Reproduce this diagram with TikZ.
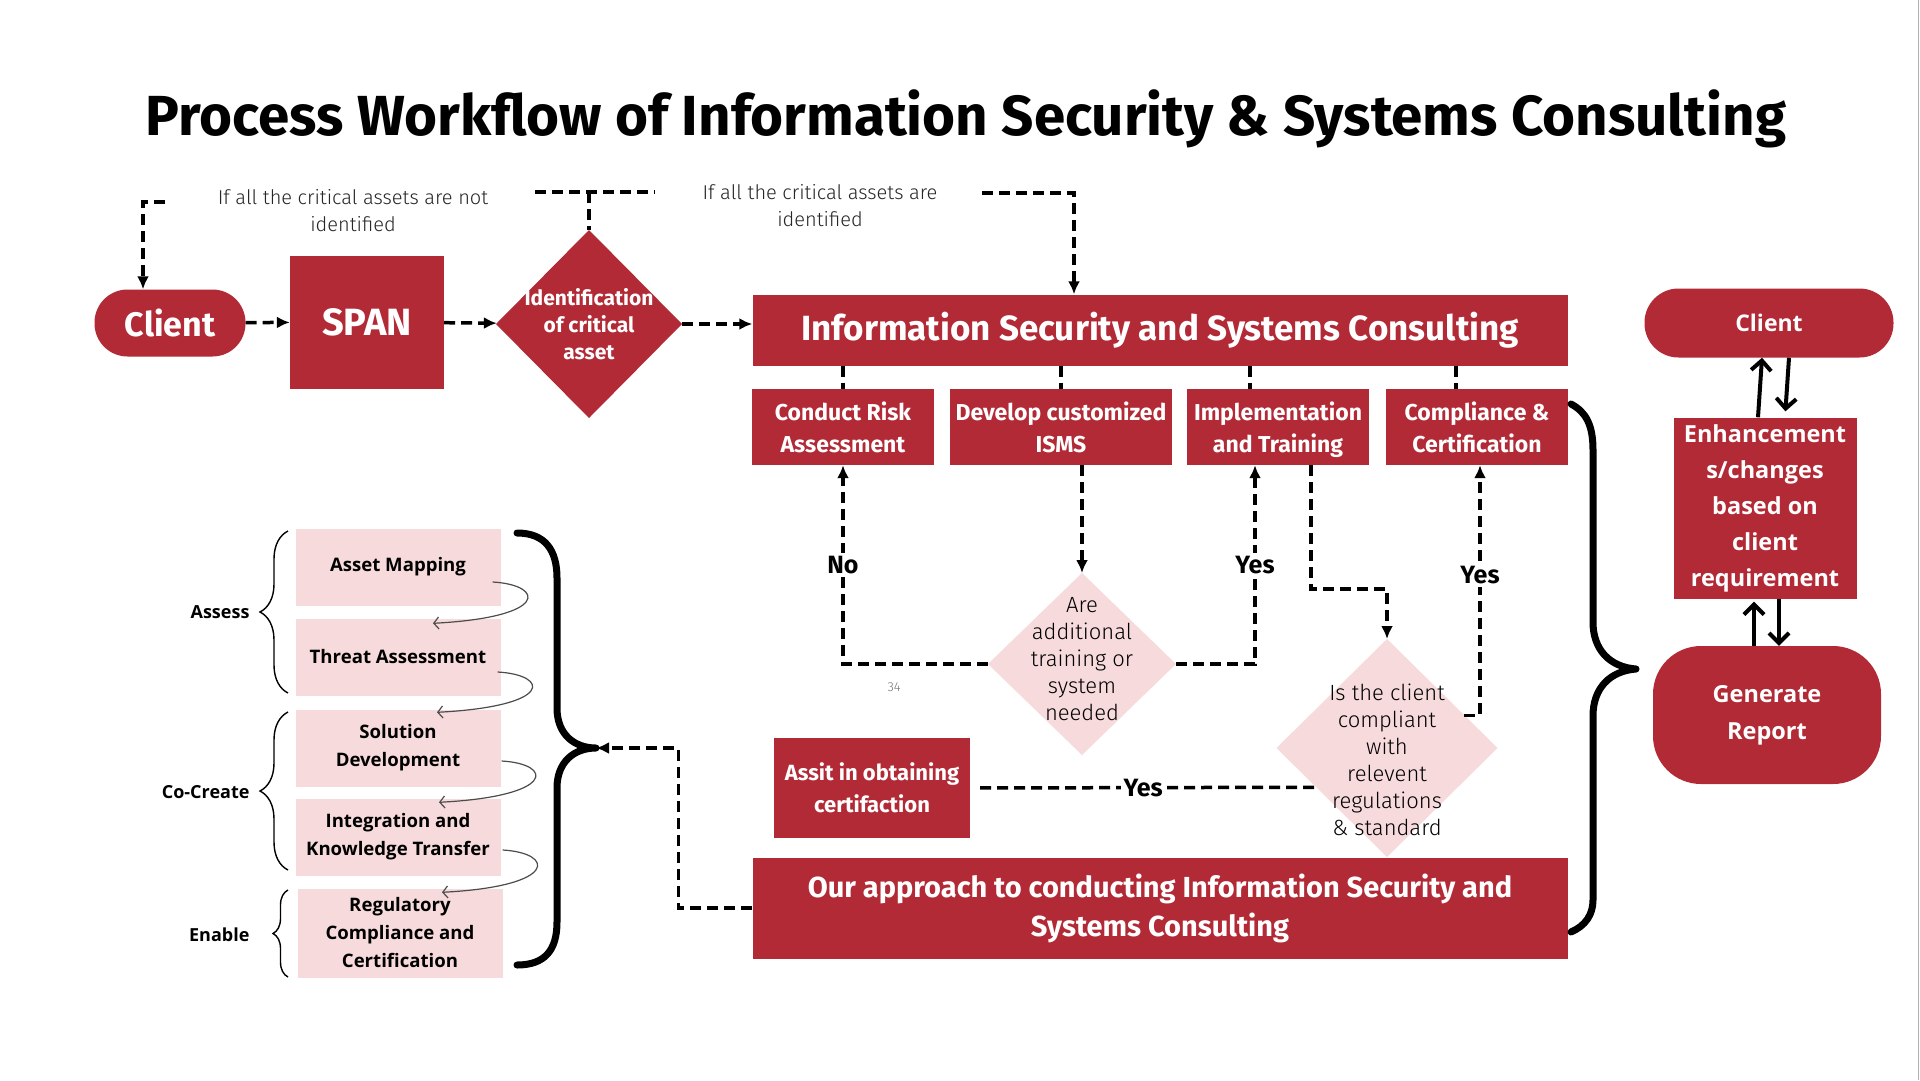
\documentclass[tikz,border=0pt]{standalone}
\usepackage{fontspec}
\setmainfont{Open Sans}
\newfontfamily\condfont{Fira Sans}
\newfontfamily\lightfont{Fira Sans Light}
\usetikzlibrary{positioning,shapes.geometric,arrows.meta,calc,decorations.pathreplacing}
\definecolor{brandred}{RGB}{178,42,54}
\definecolor{softpink}{RGB}{247,218,219}
\tikzset{
  redbox/.style={fill=brandred,text=white,inner sep=0pt,align=center},
  pill/.style={redbox,rounded corners=#1},
  pinkbox/.style={fill=softpink,inner sep=0pt,align=center,minimum width=205,minimum height=77,font=\fontsize{18.6}{28}\selectfont\bfseries},
  dia/.style={diamond,inner sep=0pt,outer sep=0pt},
  dashline/.style={line width=3.5pt,dash pattern=on 11pt off 6pt},
  flow/.style={dashline,-{Latex[length=13pt,width=12pt]}},
  swap/.style={line width=4pt,-{Straight Barb[length=10pt,width=20pt]}},
  curl/.style={black!70,line width=1.2pt,-{Straight Barb[length=5pt,width=12pt]}},
  thinbrace/.style={decorate,line width=1.4pt},
  bigbrace/.style={line width=7pt,line cap=round,line join=round},
  tag/.style={font=\condfont\bfseries\fontsize{25}{30}\selectfont,fill=white,inner sep=3pt},
  note/.style={font=\lightfont\fontsize{20}{27}\selectfont,text=black!85,align=center},
  sidelabel/.style={anchor=east,font=\fontsize{18}{22}\selectfont\bfseries},
}
\begin{document}
\begin{tikzpicture}[x=1pt,y=-1pt]
\useasboundingbox (0,0) rectangle (1920,1080);
\fill[white] (0,0) rectangle (1920,1080);
\draw[black!30,line width=1.5pt] (1918.5,0) -- (1918.5,1080);

\node[font=\condfont\bfseries\fontsize{56.5}{60}\selectfont] (title) at (966,119) {Process Workflow of Information Security \& Systems Consulting};

% top row
\node[pill=33,minimum width=151,minimum height=67,font=\condfont\bfseries\fontsize{34}{40}\selectfont] (cl) at (170,323) {Client};
\node[redbox,minimum width=154,minimum height=133,font=\condfont\bfseries\fontsize{38}{40}\selectfont] (span) at (367,322) {SPAN};
\node[dia,fill=brandred,minimum width=186,minimum height=188,
  label={[align=center,text=white,font=\condfont\bfseries\fontsize{21}{27}\selectfont]center:{Identification\\of critical\\asset}}] (ica) at (589,324) {};
\node[redbox,minimum width=815,minimum height=71,font=\condfont\bfseries\fontsize{35}{40}\selectfont] (isc) at (1160,330) {Information Security and Systems Consulting};

\node[note] (notid) at (353,211) {If all the critical assets are not\\identified};
\node[note] (isid) at (820,206) {If all the critical assets are\\identified};

% service boxes
\node[redbox,minimum width=182,minimum height=76,font=\condfont\bfseries\fontsize{23}{32}\selectfont] (cra) at (843,427) {Conduct Risk\\Assessment};
\node[redbox,minimum width=222,minimum height=76,font=\condfont\bfseries\fontsize{23}{32}\selectfont] (dev) at (1061,427) {Develop customized\\ISMS};
\node[redbox,minimum width=182,minimum height=76,font=\condfont\bfseries\fontsize{23}{32}\selectfont] (imp) at (1278,427) {Implementation\\and Trainin\smash{g}};
\node[redbox,minimum width=182,minimum height=76,font=\condfont\bfseries\fontsize{23}{32}\selectfont] (comp) at (1477,427) {Compliance \&\\Certification};

% decisions
\node[dia,fill=softpink,minimum width=188,minimum height=182,
  label={[align=center,font=\lightfont\fontsize{22}{27}\selectfont,yshift=5pt]center:{Are\\additional\\training or\\system\\needed}}] (are) at (1082,664) {};
\node[dia,fill=softpink,minimum width=221,minimum height=218,
  label={[align=center,font=\lightfont\fontsize{22}{27}\selectfont,yshift=-12pt]center:{Is the client\\compliant\\with\\relevent\\regulations\\\& standard}}] (cd) at (1387,748) {};
\node[font=\lightfont\fontsize{13}{14}\selectfont,text=black!55] (pg) at (894,687) {34};

\node[redbox,minimum width=196,minimum height=100,font=\condfont\bfseries\fontsize{22}{32}\selectfont] (asst) at (872,788) {Assit in obtaining\\certifaction};
\node[redbox,minimum width=815,minimum height=101,font=\condfont\bfseries\fontsize{29}{39}\selectfont] (oa) at (1160,908) {Our approach to conducting Information Security and\\Systems Consulting};

% right column
\node[pill=34,minimum width=249,minimum height=69,font=\fontsize{23}{28}\selectfont\bfseries] (cr) at (1769,323) {Client};
\node[redbox,minimum width=183,minimum height=181,font=\fontsize{23.5}{36}\selectfont\bfseries] (enh) at (1765,508) {Enhancement\\s/changes\\based on\\client\\requirement};
\node[pill=48,minimum width=228,minimum height=138,font=\fontsize{23.5}{37}\selectfont\bfseries] (gr) at (1767,715) {Generate\\Report};

% left list
\node[pinkbox] (am) at (398,567) {Asset Mapping};
\node[pinkbox] (tm) at (398,657) {Threat Assessment};
\node[pinkbox] (sd) at (398,748) {Solution\\Development};
\node[pinkbox] (ik) at (398,837) {Integration and\\Knowledge Transfer};
\node[pinkbox,minimum height=89] (rc) at (400,933) {Regulatory\\Compliance and\\Certification};

\node[sidelabel] (assess) at (253,612) {Assess};
\node[sidelabel] (cocreate) at (253,792) {Co-Create};
\node[sidelabel] (enable) at (253,935) {Enable};

\draw[thinbrace,decoration={brace,amplitude=28pt}] (288,693) -- (288,531);
\draw[thinbrace,decoration={brace,amplitude=28pt}] (288,870) -- (288,712);
\draw[thinbrace,decoration={brace,amplitude=15pt}] (288,977) -- (288,890);

\draw[curl] ($(am.east)+(-8,15)$) .. controls +(52,3) and +(117,-6) .. ($(tm.north)+(35,5)$);
\draw[curl] ($(tm.east)+(-3,15)$) .. controls +(52,3) and +(117,-6) .. ($(sd.north)+(39,3)$);
\draw[curl] ($(sd.east)+(1,13)$) .. controls +(52,3) and +(117,-6) .. ($(ik.north)+(41,4)$);
\draw[curl] ($(ik.east)+(2,13)$) .. controls +(52,3) and +(117,-6) .. ($(rc.north)+(42,4)$);

% big braces
\coordinate (btip) at (596,748);
\draw[bigbrace] (517,533) .. controls (545,533) and (557,550) .. (557,578) -- (557,708) .. controls (557,735) and (575,748) .. (btip) .. controls (575,748) and (557,761) .. (557,788) -- (557,922) .. controls (557,950) and (545,965) .. (517,965);
\coordinate (rtip) at (1636,669);
\draw[bigbrace] (1571,404) .. controls (1586,412) and (1593,425) .. (1593,450) -- (1593,622) .. controls (1593,650) and (1610,667) .. (rtip) .. controls (1610,671) and (1593,688) .. (1593,716) -- (1593,900) .. controls (1593,915) and (1585,926) .. (1571,932);

% connectors
\coordinate (nl) at (165,202);
\draw[flow] (nl) -| ([xshift=-27pt]cl.north);
\draw[flow] (cl) -- (span);
\draw[flow] (span) -- (ica);
\draw[flow] (ica.east) -- (ica.east -| isc.west);
\coordinate (tl) at (535,192);
\coordinate (tr) at (655,192);
\draw[dashline] (tl) -- (tr);
\draw[dashline] (tl -| ica.north) -- (ica.north);
\coordinate (ir) at (982,193);
\draw[flow] (ir) -| ([xshift=-86pt]isc.north);

\draw[dashline] (isc.south -| cra) -- (cra.north);
\draw[dashline] (isc.south -| dev) -- (dev.north);
\draw[dashline] ([xshift=-28pt]isc.south -| imp) -- ([xshift=-28pt]imp.north);
\draw[dashline] ([xshift=-21pt]isc.south -| comp) -- ([xshift=-21pt]comp.north);

\draw[flow] (are.west) -| (cra.south) node[tag,pos=0.75] {No};
\draw[flow] (are.north |- dev.south) -- (are.north);
\draw[flow] (are.east) -| ([xshift=-23pt]imp.south) node[tag,pos=0.75] {Yes};
\draw[flow] ([xshift=33pt]imp.south) -- ++(0,124) -| (cd.north);
\draw[flow] ($(cd.east)!0.3!(cd.north)$) -| ([xshift=3pt]comp.south) node[tag,pos=0.78] {Yes};
\draw[dashline,shorten <=10pt] (asst.east) -- node[tag] {Yes} ($(cd.west)!0.36!(cd.south)$);
\draw[flow] (oa.west) -- ++(-74,0) |- (btip);

\draw[swap] ([xshift=-7pt]enh.north) -- ([xshift=-7pt]cr.south);
\draw[swap,shorten >=6pt] ([xshift=20pt]cr.south) -- ([xshift=20pt]enh.north);
\draw[swap,shorten >=3pt] ([xshift=-13pt]gr.north) -- ([xshift=-11pt]enh.south);
\draw[swap] ([xshift=14pt]enh.south) -- ([xshift=12pt]gr.north);
\end{tikzpicture}
\end{document}
